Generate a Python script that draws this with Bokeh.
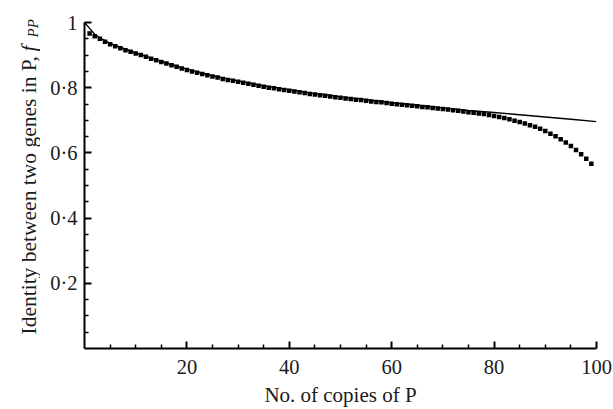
from bokeh.plotting import figure
from bokeh.layouts import row
from bokeh.models import Range1d, FixedTicker
from bokeh.core.properties import value
from bokeh.embed import file_html
from bokeh.resources import INLINE
import math

# --- data ---
sim_x = list(range(1, 100))
sim_y = [0.966, 0.958, 0.950, 0.941, 0.933, 0.927, 0.921, 0.915, 0.910, 0.905,
         0.900, 0.895, 0.889, 0.884, 0.879, 0.874, 0.869, 0.864, 0.859, 0.854,
         0.850, 0.846, 0.842, 0.838, 0.834, 0.831, 0.827, 0.824, 0.821, 0.818,
         0.815, 0.812, 0.809, 0.806, 0.803, 0.800, 0.798, 0.795, 0.793, 0.791,
         0.788, 0.786, 0.784, 0.781, 0.779, 0.777, 0.775, 0.773, 0.771, 0.769,
         0.767, 0.765, 0.763, 0.762, 0.760, 0.758, 0.756, 0.755, 0.753, 0.751,
         0.749, 0.748, 0.746, 0.745, 0.743, 0.741, 0.740, 0.738, 0.736, 0.735,
         0.733, 0.731, 0.729, 0.727, 0.725, 0.723, 0.721, 0.719, 0.716, 0.713,
         0.710, 0.707, 0.703, 0.699, 0.695, 0.690, 0.685, 0.680, 0.674, 0.667,
         0.659, 0.651, 0.642, 0.632, 0.621, 0.609, 0.596, 0.582, 0.567]

theory_x = [0, 1, 2, 3, 5, 7, 10, 15, 20, 25, 30, 35, 40, 45, 50, 55, 60, 65,
            70, 75, 80, 85, 90, 95, 100]
theory_y = [1.0, 0.982, 0.964, 0.953, 0.936, 0.924, 0.907, 0.881, 0.857, 0.837,
            0.821, 0.806, 0.794, 0.782, 0.772, 0.763, 0.754, 0.746, 0.738, 0.730,
            0.724, 0.717, 0.710, 0.703, 0.696]

x_major = [20, 40, 60, 80, 100]
x_minor = [5, 10, 15, 25, 30, 35, 45, 50, 55, 65, 70, 75, 85, 90, 95]
y_major = [0.2, 0.4, 0.6, 0.8, 1.0]
y_minor = [0.05, 0.1, 0.15, 0.25, 0.3, 0.35, 0.45, 0.5, 0.55, 0.65, 0.7, 0.75,
           0.85, 0.9, 0.95]
y_labels = ["0·2", "0·4", "0·6", "0·8", "1"]

y_title_main = "Identity between two genes in P,"
y_title_f = "f"
y_title_sub = "PP"

FONT = "Liberation Serif"
INK = "#1a1a1a"
W, H = 613, 409
LW = 40  # width of the strip that holds the y-axis title

# ---------- main plot ----------
p = figure(width=W - LW, height=H, output_backend="svg", toolbar_location=None,
           x_range=Range1d(0, 100), y_range=Range1d(0, 1),
           min_border_left=84 - LW, min_border_right=17, min_border_top=22,
           min_border_bottom=58)
p.outline_line_color = None
p.xgrid.visible = False
p.ygrid.visible = False
p.background_fill_color = "white"
p.border_fill_color = "white"
p.frame_align = False

p.line(theory_x, theory_y, line_color="black", line_width=1.4)
p.scatter(sim_x, sim_y, marker="square", size=4.5, fill_color="black",
          line_color="black", line_width=0)

for ax in (p.xaxis[0], p.yaxis[0]):
    ax.axis_line_width = 2
    ax.axis_line_color = "black"
    ax.major_tick_in = 7
    ax.major_tick_out = 0
    ax.minor_tick_in = 4
    ax.minor_tick_out = 0
    ax.major_tick_line_width = 2
    ax.minor_tick_line_width = 1.5
    ax.major_label_text_font = FONT
    ax.major_label_text_font_size = "20.5px"
    ax.major_label_text_color = INK

p.xaxis.ticker = FixedTicker(ticks=x_major, minor_ticks=x_minor)
p.xaxis.major_label_standoff = 11
p.xaxis.axis_label = "No. of copies of P"
p.xaxis.axis_label_text_font = FONT
p.xaxis.axis_label_text_font_style = "normal"
p.xaxis.axis_label_text_font_size = "21px"
p.xaxis.axis_label_text_color = INK
p.xaxis.axis_label_standoff = 6

p.yaxis.ticker = FixedTicker(ticks=y_major, minor_ticks=y_minor)
p.yaxis.major_label_overrides = {v: s for v, s in zip(y_major, y_labels)}
p.yaxis.major_label_standoff = 7

# ---------- strip holding the y-axis title (pixel coordinates, y up) ----------
t = figure(width=LW, height=H, output_backend="svg", toolbar_location=None,
           x_range=Range1d(0, LW), y_range=Range1d(0, H),
           x_axis_type=None, y_axis_type=None,
           min_border=0, min_border_left=0, min_border_right=0,
           min_border_top=0, min_border_bottom=0)
t.outline_line_color = None
t.xgrid.visible = False
t.ygrid.visible = False
t.background_fill_color = "white"
t.border_fill_color = "white"
t.frame_align = False

common = dict(angle=math.pi / 2, text_align="left", text_baseline="alphabetic",
              text_font=value(FONT), text_color=INK)
t.text(x=[28.5], y=[H - 334], text=[y_title_main], text_font_size="21.5px",
       text_font_style="normal", **common)
t.text(x=[28.5], y=[H - 51], text=[y_title_f], text_font_size="21.5px",
       text_font_style="italic", **common)
t.text(x=[32], y=[H - 37], text=[y_title_sub], text_font_size="15px",
       text_font_style="italic", **common)

layout = row(t, p, spacing=0)
open("out.html", "w").write(file_html(layout, INLINE))
